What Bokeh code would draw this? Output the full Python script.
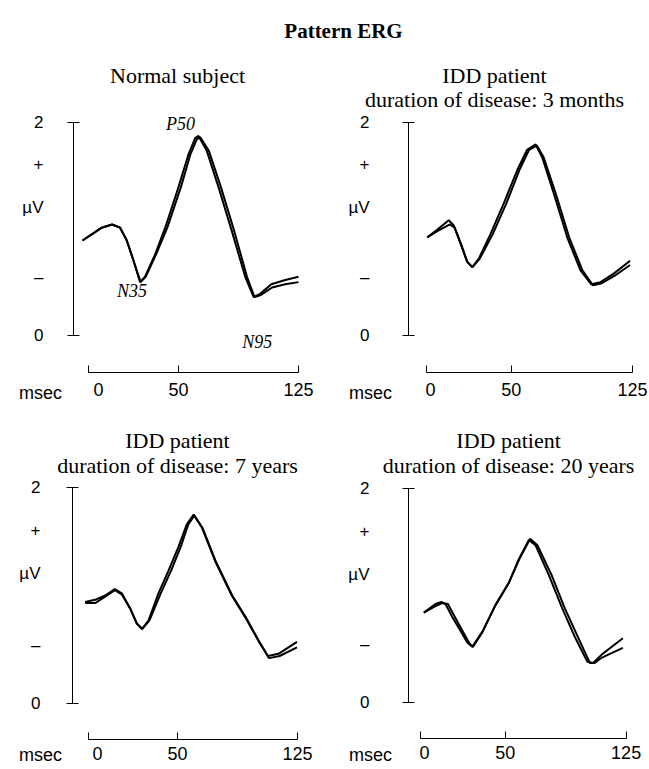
from bokeh.plotting import figure
from bokeh.models import LinearAxis, FixedTicker, Label, Range1d
from bokeh.layouts import column, row
from bokeh.embed import file_html
from bokeh.resources import INLINE

SANS = "Liberation Sans"
SERIF = "Liberation Serif"

# ---------------- data (ms, µV) ----------------
# Normal subject
n_t_a = [-10, -4, 2, 8.5, 13.5, 17.7, 21.9, 26, 29, 35.4, 41.7, 50, 56.3, 60.4, 62.5, 67.7, 75, 83.3, 91.7, 97, 101, 108, 116.7, 125]
n_v_a = [0.89, 0.95, 1.01, 1.04, 1.01, 0.89, 0.70, 0.50, 0.55, 0.76, 1.01, 1.39, 1.70, 1.85, 1.87, 1.73, 1.39, 0.98, 0.55, 0.36, 0.39, 0.48, 0.52, 0.55]
n_t_b = [-10, -4, 2, 8.5, 13.5, 17.7, 21.9, 26.3, 29.5, 36, 43, 51.5, 57.5, 61.5, 63.5, 69, 76.5, 84.8, 92.8, 97.5, 101.5, 108.5, 116.7, 125]
n_v_b = [0.89, 0.95, 1.01, 1.04, 1.01, 0.89, 0.70, 0.50, 0.55, 0.76, 1.01, 1.39, 1.70, 1.84, 1.86, 1.73, 1.39, 0.98, 0.55, 0.36, 0.38, 0.45, 0.48, 0.50]

# IDD, 3 months
m3_t_a = [-2, 4.1, 11.3, 14.4, 18.6, 22.7, 25.8, 29.9, 37.1, 45.4, 53.7, 59.8, 65, 69.1, 76.3, 84.6, 92.8, 99.5, 105.2, 113.4, 123.5]
m3_v_a = [0.92, 0.99, 1.08, 1.03, 0.86, 0.69, 0.64, 0.72, 0.95, 1.24, 1.55, 1.74, 1.79, 1.67, 1.33, 0.92, 0.61, 0.48, 0.50, 0.58, 0.70]
m3_t_b = [-2, 4.5, 12, 15, 18.8, 22.8, 26, 30.5, 38.5, 47, 55, 61, 65.8, 70, 77.5, 85.8, 94, 100.5, 106, 114, 123.5]
m3_v_b = [0.92, 0.98, 1.04, 1.01, 0.86, 0.69, 0.64, 0.72, 0.95, 1.24, 1.55, 1.74, 1.78, 1.67, 1.33, 0.92, 0.61, 0.47, 0.49, 0.56, 0.66]

# IDD, 7 years
y7_t_a = [-7.7, -1.5, 4.8, 10.8, 15.2, 20.4, 24.6, 27.8, 31.9, 38.1, 44.4, 50.6, 55.8, 60.1, 65.2, 73.5, 83.9, 92.3, 100.6, 106.5, 113.1, 124.7]
y7_v_a = [0.94, 0.96, 1.00, 1.06, 1.02, 0.88, 0.74, 0.69, 0.77, 1.02, 1.23, 1.45, 1.66, 1.75, 1.63, 1.32, 1.00, 0.80, 0.58, 0.44, 0.46, 0.57]
y7_t_b = [-7.7, -1.5, 4.8, 10.8, 15.2, 20.4, 24.6, 28, 32.5, 39.5, 46, 52, 56.8, 60.5, 65.5, 73.8, 84.2, 92.6, 101.2, 107.2, 113.8, 124.7]
y7_v_b = [0.93, 0.93, 0.99, 1.05, 1.01, 0.88, 0.74, 0.69, 0.77, 1.02, 1.23, 1.45, 1.66, 1.74, 1.63, 1.32, 1.00, 0.80, 0.57, 0.42, 0.44, 0.52]

# IDD, 20 years
y20_t_a = [-0.4, 6.8, 10.5, 13, 17.2, 22.3, 26.5, 29.6, 35.8, 44, 52.3, 58.5, 64.7, 68.8, 77.1, 85.4, 93.6, 101, 104.5, 110, 114.3, 123]
y20_v_a = [0.84, 0.92, 0.94, 0.92, 0.80, 0.67, 0.56, 0.52, 0.66, 0.91, 1.12, 1.34, 1.52, 1.47, 1.19, 0.88, 0.60, 0.38, 0.37, 0.45, 0.50, 0.60]
y20_t_b = [-0.4, 6.8, 11, 14.5, 18.8, 23.5, 27.5, 30, 36, 44, 52.3, 58.8, 65.5, 70, 78.8, 87, 95.5, 102.5, 105.5, 110, 114.3, 123]
y20_v_b = [0.84, 0.90, 0.93, 0.92, 0.80, 0.67, 0.56, 0.52, 0.66, 0.91, 1.12, 1.34, 1.53, 1.47, 1.19, 0.88, 0.60, 0.37, 0.37, 0.42, 0.45, 0.51]

# axis ticks / labels
x_ticks = [0, 50, 125]
x_tick_labels = ["0", "50", "125"]
y_label_pos = [0, 0.54, 1.2, 1.6, 2]
y_labels = ["0", "–", "µV", "+", "2"]
y_caps = [0, 2]

titles = [
    ["Normal subject"],
    ["IDD patient", "duration of disease: 3 months"],
    ["IDD patient", "duration of disease: 7 years"],
    ["IDD patient", "duration of disease: 20 years"],
]
peak_names = ["P50", "N35", "N95"]
peak_pos = [(51.3, 1.98), (21.0, 0.42), (99.2, -0.06)]


def make_panel(traces, title_lines, width, height, xr, yr, yaxis_at, xaxis_at, xbound,
               std_x, std_y, title_x, title_y, msec_x, msec_y):
    p = figure(width=width, height=height, x_range=Range1d(*xr), y_range=Range1d(*yr),
               x_axis_type=None, y_axis_type=None, toolbar_location=None,
               output_backend="svg", min_border=0, outline_line_color=None,
               title=None)
    yaxis = LinearAxis(bounds=(0, 2), fixed_location=yaxis_at,
                       ticker=FixedTicker(ticks=y_label_pos, minor_ticks=y_caps),
                       major_label_overrides=dict(zip(y_label_pos, y_labels)),
                       major_tick_in=0, major_tick_out=0,
                       minor_tick_in=6, minor_tick_out=6,
                       axis_line_color="black", major_tick_line_color="black",
                       minor_tick_line_color="black",
                       major_label_standoff=std_y,
                       major_label_text_font=SANS, major_label_text_font_size="17px",
                       major_label_text_color="black")
    p.add_layout(yaxis, "left")
    xaxis = LinearAxis(bounds=xbound, fixed_location=xaxis_at,
                       ticker=FixedTicker(ticks=x_ticks, minor_ticks=[xbound[0], 50, 125]),
                       major_label_overrides=dict(zip(x_ticks, x_tick_labels)),
                       major_tick_in=0, major_tick_out=0,
                       minor_tick_in=7, minor_tick_out=0,
                       axis_line_color="black", minor_tick_line_color="black",
                       major_label_standoff=std_x,
                       major_label_text_font=SANS, major_label_text_font_size="18px",
                       major_label_text_color="black")
    p.add_layout(xaxis, "below")
    for t, v in traces:
        p.line(t, v, line_color="black", line_width=2.0)
    for i, line in enumerate(title_lines):
        p.add_layout(Label(x=title_x, y=title_y[i], text=line, text_align="center",
                           text_baseline="middle", text_font=SERIF,
                           text_font_size="22px", text_color="black"))
    p.add_layout(Label(x=msec_x, y=msec_y, text="msec", text_align="center",
                       text_baseline="middle", text_font=SANS,
                       text_font_size="18px", text_color="black"))
    return p


# figures fill their whole canvas; axes are pinned with fixed_location
p1 = make_panel([(n_t_a, n_v_a), (n_t_b, n_v_b)], titles[0], 325, 360,
                (-61.25, 141.875), (-0.7026, 2.670), -15.625, -0.3466, (-6, 125),
                11, 24, 49.4, [2.436], -36.3, -0.534)
for name, (px, py) in zip(peak_names, peak_pos):
    p1.add_layout(Label(x=px, y=py, text=name, text_align="center", text_baseline="middle",
                        text_font=SERIF, text_font_style="italic", text_font_size="18px",
                        text_color="black"))

p2 = make_panel([(m3_t_a, m3_v_a), (m3_t_b, m3_v_b)], titles[1], 324, 360,
                (-64.98, 135.52), (-0.7026, 2.670), -13.61, -0.3466, (-2.5, 125),
                11, 33, 39.6, [2.436, 2.211], -37.1, -0.534)
p3 = make_panel([(y7_t_a, y7_v_a), (y7_t_b, y7_v_b)], titles[2], 325, 359,
                (-60.625, 142.5), (-0.6111, 2.713), -15.625, -0.3287, (-5.6, 125),
                8, 26, 50.0, [2.435, 2.204], -35.6, -0.481)
p4 = make_panel([(y20_t_a, y20_v_a), (y20_t_b, y20_v_b)], titles[3], 324, 359,
                (-61.38, 139.49), (-0.6262, 2.729), -9.92, -0.3364, (-2.5, 125),
                8, 33, 52.1, [2.449, 2.215], -33.5, -0.495)

head = figure(width=649, height=50, x_range=Range1d(0, 649), y_range=Range1d(0, 50),
              x_axis_type=None, y_axis_type=None, toolbar_location=None,
              output_backend="svg", min_border=0, outline_line_color=None, title=None)
head.add_layout(Label(x=343, y=20, text="Pattern ERG", text_align="center",
                      text_baseline="middle", text_font=SERIF, text_font_style="bold",
                      text_font_size="21px", text_color="black"))

layout = column(head, row(p1, p2), row(p3, p4))
open("out.html", "w").write(file_html(layout, INLINE))
